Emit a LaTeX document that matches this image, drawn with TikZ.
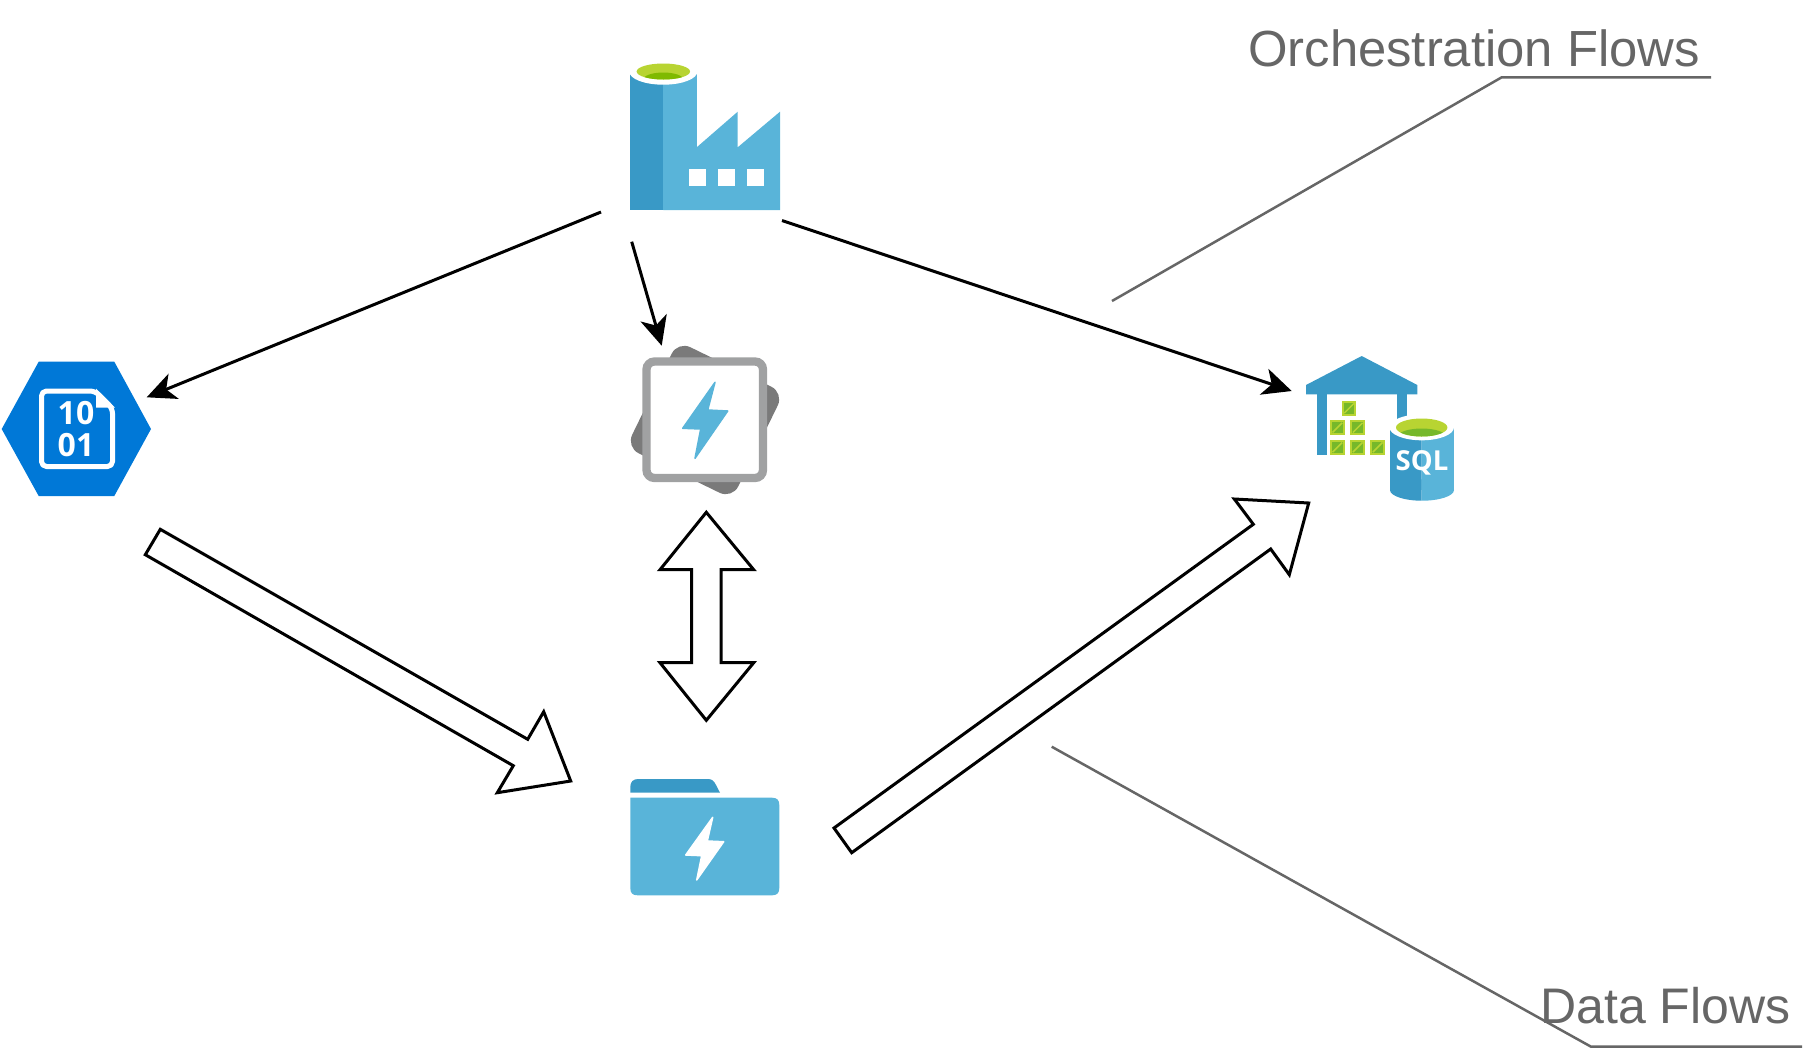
\documentclass[tikz,border=0pt]{standalone}
\usepackage{fontspec}
\setmainfont{Liberation Sans}
\newfontfamily\iconfont{Open Sans}
\usetikzlibrary{arrows.meta}
\definecolor{colDark}{HTML}{3999C6}
\definecolor{colLight}{HTML}{59B4D9}
\definecolor{colLime}{HTML}{B8D432}
\definecolor{colMoss}{HTML}{7FBA00}
\definecolor{colCrate}{HTML}{76B82A}
\definecolor{colBlob}{HTML}{0078D7}
\definecolor{colFrame}{HTML}{A0A1A2}
\definecolor{colBack}{HTML}{7A7A7A}
\definecolor{colLeader}{HTML}{666666}

\tikzset{
  flowArrow/.style={black, line width=3pt, -{Stealth[length=29pt, width=27pt, inset=8pt]}},
  blockArrow/.style={draw=black, fill=white, line width=3pt, line join=miter},
  leaderLine/.style={colLeader, line width=2.5pt},
  flowLabel/.style={font=\fontsize{#1}{50}\selectfont, text=colLeader, anchor=base west, inner sep=0pt},
  iconLabel/.style={font=\iconfont\bfseries\fontsize{#1}{#1}\selectfont, text=white, inner sep=0pt}
}

\begin{document}
\begin{tikzpicture}[x=1pt, y=-1pt]
  \useasboundingbox (0,0) rectangle (1803,1050);

  % Factory
  \fill[colLight] (663.3,72) rectangle (696.7,210);
  \fill[colLight] (696.7,147.3) -- (737.7,111.7) -- (737.7,147.3) -- (780,111.7) -- (780,210) -- (663.3,210) -- (663.3,147.3) -- cycle;
  \fill[colDark] (630,72) rectangle (663.3,210);
  \fill[white] (663.3,71.7) ellipse (34 and 13);
  \fill[colLime] (663.3,71.5) ellipse (26.7 and 8);
  \begin{scope}
    \clip (663.3,71.5) ellipse (26.7 and 8);
    \fill[colMoss] (663.3,79.5) ellipse (20 and 7);
  \end{scope}
  \foreach \x in {689,718,747.3} {
    \fill[white] (\x,169) rectangle ++(16.7,16.7);
  }

  % Blob hexagon
  \fill[colBlob] (1.7,429) -- (38.7,361.7) -- (114.3,361.7) -- (151,429) -- (114.3,496) -- (38.7,496) -- cycle;
  \draw[white, line width=5pt, line join=round, rounded corners=5pt] (41.5,391) -- (95,391) -- (112.5,408.5) -- (112.5,466.5) -- (41.5,466.5) -- cycle;
  \fill[white] (96,388.5) -- (115,407.5) -- (96,407.5) -- cycle;
  \node[iconLabel=32] (blobTop) at (76,413.5) {10};
  \node[iconLabel=32] (blobBottom) at (76,445) {01};

  % Function app
  \fill[colBack, rotate around={-26:(705,420)}, rounded corners=14pt] (646,361) rectangle (764,479);
  \draw[colFrame, fill=white, line width=8.3pt, rounded corners=8pt] (646.5,361.5) rectangle (763,478);
  \fill[colLight, draw=colLight, line width=1.5pt, line join=round] (715,382.3) -- (707.7,410) -- (727.7,411) -- (695,458.3) -- (700.7,429) -- (682.7,428.3) -- cycle;

  % Folder
  \fill[colDark] (630.3,792.7) -- (630.3,787) .. controls (630.3,782) and (633,779) .. (638,779) -- (708,779) .. controls (712,779) and (714,781) .. (716,785) -- (720,792.7) -- cycle;
  \fill[colLight] (630.3,797.7) -- (772,797.7) .. controls (777,797.7) and (779.3,800) .. (779.3,805) -- (779.3,888) .. controls (779.3,893) and (777,895.3) .. (772,895.3) -- (637.5,895.3) .. controls (632.5,895.3) and (630.3,893) .. (630.3,888) -- cycle;
  \fill[white, draw=white, line width=1.5pt, line join=round] (712.7,817.3) -- (707.3,841) -- (723.7,841.7) -- (696.7,880) -- (701.7,855.7) -- (685.7,855) -- cycle;

  % Warehouse
  \fill[colDark] (1361.7,356) -- (1306,385) -- (1306,394.3) -- (1417.3,394.3) -- (1417.3,385) -- cycle;
  \fill[colDark] (1317.3,394) rectangle (1326.7,455);
  \fill[colDark] (1396.7,394) rectangle (1407.3,425);
  \foreach \x/\y in {1341.7/401, 1330/420.3, 1350.3/420.3, 1330/440, 1350.3/440, 1370.3/440} {
    \fill[colLime] (\x,\y) rectangle ++(14.7,14.7);
    \fill[colCrate] (\x+2,\y+2) rectangle ++(10.7,10.7);
    \draw[colLime, line width=1.5pt] (\x+2.5,\y+12.2) -- (\x+12.2,\y+2.5);
  }

  % SQL cylinder
  \begin{scope}
    \clip (1385,415) rectangle (1421.7,505);
    \fill[colDark] (1390,427) rectangle (1454,490);
    \fill[colDark] (1422,490) ellipse (32 and 10.7);
  \end{scope}
  \begin{scope}
    \clip (1421.7,415) rectangle (1460,505);
    \fill[colLight] (1390,427) rectangle (1454,490);
    \fill[colLight] (1422,490) ellipse (32 and 10.7);
  \end{scope}
  \fill[white] (1421.7,427.3) ellipse (32.3 and 13);
  \fill[colLime] (1421.7,427.5) ellipse (25.7 and 9);
  \begin{scope}
    \clip (1421.7,427.5) ellipse (25.7 and 9);
    \fill[colCrate] (1421.7,436.5) ellipse (24 and 8);
  \end{scope}
  \node[iconLabel=27.5] (sqlText) at (1422,463) {SQL};

  % Orchestration and data arrows
  \coordinate (factoryLeft) at (601,212);
  \coordinate (blobEast) at (146.7,397.3);
  \coordinate (factoryDown) at (631.7,241.7);
  \coordinate (funcTop) at (661.7,345.7);
  \coordinate (factoryRight) at (782,220.5);
  \coordinate (warehouseWest) at (1291.7,391);
  \draw[flowArrow] (factoryLeft) -- (blobEast);
  \draw[flowArrow] (factoryDown) -- (funcTop);
  \draw[flowArrow] (factoryRight) -- (warehouseWest);

  \draw[blockArrow] (160.3,529.3) -- (527.7,739.3) -- (543.7,711.7) -- (570.7,781) -- (497.3,792.7) -- (513.3,765.7) -- (145.3,554.7) -- cycle;
  \draw[blockArrow] (706.3,512.3) -- (753.7,569.7) -- (721,569.7) -- (721,662.7) -- (753.7,662.7) -- (706.3,720.3) -- (660,662.7) -- (691.7,662.7) -- (691.7,569.7) -- (660,569.7) -- cycle;
  \draw[blockArrow] (834,828) -- (1253.3,524.3) -- (1234.3,499) -- (1308.7,503) -- (1289.3,574.7) -- (1270.7,549) -- (851.7,852.7) -- cycle;

  % Leader lines and labels
  \coordinate (orchStart) at (1112,301);
  \coordinate (orchElbow) at (1501.7,77.3);
  \coordinate (orchEnd) at (1711,77.3);
  \coordinate (dataStart) at (1051.7,746.7);
  \coordinate (dataElbow) at (1591,1046.7);
  \coordinate (dataEnd) at (1802,1046.7);
  \draw[leaderLine] (orchStart) -- (orchElbow) -- (orchEnd);
  \draw[leaderLine] (dataStart) -- (dataElbow) -- (dataEnd);
  \node[flowLabel=50.8] (orchLabel) at (1248,66.7) {Orchestration Flows};
  \node[flowLabel=50] (dataLabel) at (1540,1023) {Data Flows};
\end{tikzpicture}
\end{document}
